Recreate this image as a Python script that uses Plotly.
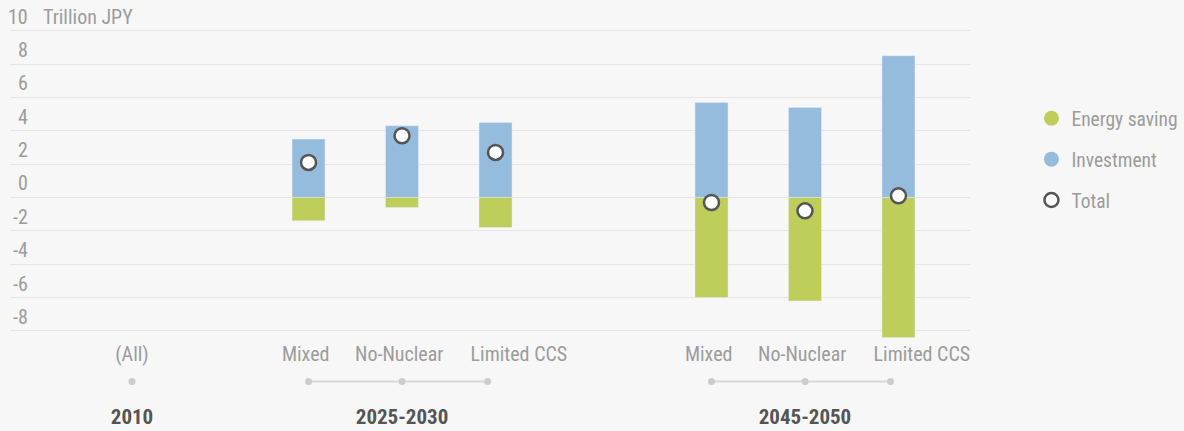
import plotly.graph_objects as go

# data (trillion JPY)
periods = ["2010", "2025-2030", "2045-2050"]
scenarios = {
    "2010": ["(All)"],
    "2025-2030": ["Mixed", "No-Nuclear", "Limited CCS"],
    "2045-2050": ["Mixed", "No-Nuclear", "Limited CCS"],
}
investment = [None, 3.5, 4.3, 4.5, 5.7, 5.4, 8.5]
energy_saving = [None, -1.4, -0.6, -1.8, -6.0, -6.2, -8.4]
total = [None, 2.1, 3.7, 2.7, -0.3, -0.8, 0.1]
y_ticks = [10, 8, 6, 4, 2, 0, -2, -4, -6, -8]

FONT = "Roboto Condensed, Roboto, sans-serif"
GREY = "#9c9c9c"
BLUE = "#96bcdd"
GREEN = "#bfcd5a"
FS = 20

# x layout: one unit between scenarios, wider gaps between periods
group_start = [0.0, 1.888, 6.198]
xs = []
for g, p in enumerate(periods):
    for k, s in enumerate(scenarios[p]):
        xs.append(group_start[g] + k)

fig = go.Figure()
fig.add_trace(go.Bar(x=xs, y=investment, width=0.353, marker_color=BLUE,
                     name="Investment", showlegend=False))
fig.add_trace(go.Bar(x=xs, y=energy_saving, width=0.353, marker_color=GREEN,
                     name="Energy saving", showlegend=False))
fig.add_trace(go.Scatter(x=xs, y=total, mode="markers", name="Total", showlegend=False,
                         marker=dict(size=15, color="white", line=dict(color="#555555", width=2.5))))

# legend entries (round symbols)
fig.add_trace(go.Scatter(x=[None], y=[None], mode="markers", name="Energy saving",
                         legendgroup="a", marker=dict(size=15, color=GREEN)))
fig.add_trace(go.Scatter(x=[None], y=[None], mode="markers", name="Investment",
                         legendgroup="b", marker=dict(size=15, color=BLUE)))
fig.add_trace(go.Scatter(x=[None], y=[None], mode="markers", name="Total",
                         legendgroup="c",
                         marker=dict(size=14, color="white", line=dict(color="#555555", width=2.5))))

# category rail below the chart
dot_shift = [0, 0, -0.085]
label_shift = [-0.03, -0.03, 0.25]
for g, p in enumerate(periods):
    n = len(scenarios[p])
    gx = [group_start[g] + k for k in range(n)]
    fig.add_trace(go.Scatter(x=[x + dot_shift[k] if n > 1 else x for k, x in enumerate(gx)],
                             y=[0] * n, yaxis="y2", mode="lines+markers", showlegend=False,
                             line=dict(color="#d9d9d9", width=2),
                             marker=dict(size=7, color="#cccccc"), hoverinfo="skip"))
    fig.add_trace(go.Scatter(x=[x + label_shift[k] if n > 1 else x for k, x in enumerate(gx)],
                             y=[0.95] * n, yaxis="y2", mode="text", text=scenarios[p],
                             textfont=dict(family=FONT, size=FS, color=GREY),
                             showlegend=False, hoverinfo="skip"))
    fig.add_trace(go.Scatter(x=[gx[n // 2]], y=[-1.4], yaxis="y2", mode="text", text=[p],
                             textfont=dict(family=FONT, size=21, color="#555555", weight="bold"),
                             showlegend=False, hoverinfo="skip"))

# y tick labels sitting above their grid lines
annotations = [dict(x=0, xref="paper", y=v, yref="y", text=str(v), showarrow=False,
                    xanchor="right", yanchor="bottom", xshift=20, yshift=0,
                    font=dict(family=FONT, size=FS, color=GREY)) for v in y_ticks]
annotations.append(dict(x=0, xref="paper", y=10, yref="y", text="Trillion JPY", showarrow=False,
                        xanchor="left", yanchor="bottom", xshift=31, yshift=0,
                        font=dict(family=FONT, size=FS, color=GREY)))

fig.update_layout(
    width=1184, height=431,
    margin=dict(l=10, r=214, t=0, b=0, autoexpand=False),
    paper_bgcolor="#f7f7f7", plot_bgcolor="#f7f7f7",
    barmode="relative",
    font=dict(family=FONT, size=FS, color=GREY),
    xaxis=dict(range=[-1.305, 8.963], showgrid=False, zeroline=False,
               showticklabels=False, fixedrange=True),
    yaxis=dict(domain=[0.209, 1], range=[-8.6, 11.84], dtick=2, tick0=0,
               showgrid=True, gridcolor="#e6e6e6", gridwidth=1,
               zeroline=False, showticklabels=False),
    yaxis2=dict(domain=[0, 0.2], range=[-1.868, 1.385], visible=False),
    legend=dict(x=1.064, xanchor="left", y=0.770, yanchor="top",
                tracegroupgap=12.5, font=dict(family=FONT, size=19.5, color=GREY),
                bgcolor="rgba(0,0,0,0)"),
    annotations=annotations,
    showlegend=True,
)

fig.write_html("out.html", config={"displayModeBar": False},
               post_script="document.body.style.margin='0';")
